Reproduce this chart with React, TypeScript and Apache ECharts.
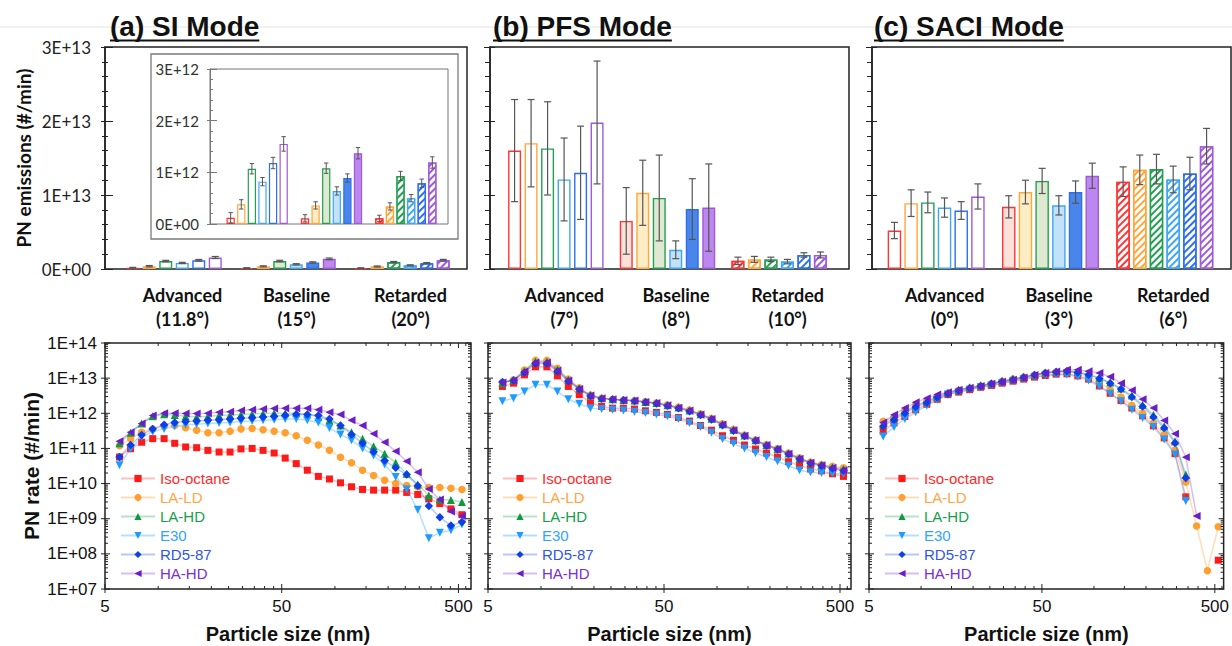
import React, { useEffect, useRef } from 'react';
import * as echarts from 'echarts';

// ---------- categories ----------
const fuels = ['Iso-octane', 'LA-LD', 'LA-HD', 'E30', 'RD5-87', 'HA-HD'];
const siTimings = ['Advanced\n(11.8°)', 'Baseline\n(15°)', 'Retarded\n(20°)'];
const pfsTimings = ['Advanced\n(7°)', 'Baseline\n(8°)', 'Retarded\n(10°)'];
const saciTimings = ['Advanced\n(0°)', 'Baseline\n(3°)', 'Retarded\n(6°)'];

// ---------- PN emissions bars (rows: fuels, cols: Advanced/Baseline/Retarded), #/min ----------
const siMeans = [
  [1.2e11, 1.1e11, 1.1e11],
  [3.8e11, 3.6e11, 3.4e11],
  [1.07e12, 1.08e12, 9.3e11],
  [8.2e11, 6.4e11, 5.0e11],
  [1.18e12, 8.9e11, 7.9e11],
  [1.55e12, 1.37e12, 1.19e12],
];
const siErrors = [
  [1.0e11, 7e10, 6e10],
  [9e10, 7e10, 7e10],
  [1.0e11, 1.0e11, 9e10],
  [8e10, 8e10, 7e10],
  [1.1e11, 8e10, 8e10],
  [1.4e11, 1.1e11, 1.1e11],
];
const pfsMeans = [
  [1.6e13, 6.5e12, 1.1e12],
  [1.7e13, 1.03e13, 1.3e12],
  [1.63e13, 9.6e12, 1.3e12],
  [1.21e13, 2.6e12, 1.0e12],
  [1.3e13, 8.1e12, 1.9e12],
  [1.98e13, 8.3e12, 1.9e12],
];
const pfsErrors = [
  [6.9e12, 4.5e12, 5e11],
  [5.9e12, 4.4e12, 4e11],
  [6.3e12, 5.8e12, 3e11],
  [5.6e12, 1.2e12, 3e11],
  [6.3e12, 4.1e12, 3e11],
  [8.3e12, 5.9e12, 4e11],
];
const saciMeans = [
  [5.2e12, 8.4e12, 1.18e13],
  [8.9e12, 1.04e13, 1.34e13],
  [9.0e12, 1.19e13, 1.35e13],
  [8.3e12, 8.6e12, 1.21e13],
  [7.9e12, 1.04e13, 1.29e13],
  [9.8e12, 1.26e13, 1.66e13],
];
const saciErrors = [
  [1.1e12, 1.5e12, 2.0e12],
  [1.8e12, 1.6e12, 2.0e12],
  [1.4e12, 1.7e12, 2.0e12],
  [1.3e12, 1.3e12, 1.8e12],
  [1.2e12, 1.5e12, 2.2e12],
  [1.7e12, 1.7e12, 2.4e12],
];

// ---------- particle size distributions ----------
const sizes = [6.04, 6.98, 8.06, 9.31, 10.8, 12.4, 14.3, 16.5, 19.1, 22.1, 25.5, 29.4, 34.0, 39.2, 45.3, 52.3,
  60.4, 69.8, 80.6, 93.1, 107.5, 124.1, 143.3, 165.5, 191.1, 220.7, 254.8, 294.3, 339.8, 392.4, 453.2, 523.3];

const siIsoOctane = [5.7e10, 9.8e10, 1.5e11, 1.9e11, 1.9e11, 1.4e11, 1.1e11, 1.05e11, 8.8e10, 7.9e10, 7.9e10, 9.7e10, 1.0e11, 8.8e10, 7.4e10, 5.3e10, 3.7e10, 2.4e10, 1.6e10, 1.35e10, 1.05e10, 8.1e9, 6.8e9, 6.5e9, 6.5e9, 6.5e9, 5.6e9, 4.9e9, 3.7e9, 2.7e9, 1.9e9, 1.3e9];
const siLALD = [1.2e11, 1.9e11, 2.9e11, 3.6e11, 4.3e11, 4.5e11, 3.9e11, 3.3e11, 2.8e11, 2.8e11, 3.1e11, 3.6e11, 3.7e11, 3.4e11, 3.1e11, 2.8e11, 2.3e11, 1.7e11, 1.25e11, 8.9e10, 5.6e10, 3.9e10, 2.4e10, 1.7e10, 1.24e10, 1.0e10, 8.8e9, 8.1e9, 7.7e9, 7.7e9, 7.4e9, 6.8e9];
const siLAHD = [1.4e11, 2.8e11, 5.1e11, 8.2e11, 9.4e11, 9.0e11, 8.2e11, 7.9e11, 8.2e11, 8.6e11, 9.0e11, 9.2e11, 9.6e11, 9.8e11, 1.0e12, 1.0e12, 1.0e12, 9.4e11, 7.9e11, 6.3e11, 4.5e11, 2.9e11, 1.9e11, 1.15e11, 7.1e10, 3.9e10, 1.9e10, 9.4e9, 4.6e9, 3.5e9, 3.4e9, 3.0e9];
const siE30 = [3.3e10, 9.7e10, 2.1e11, 3.0e11, 3.6e11, 4.3e11, 4.7e11, 4.9e11, 5.1e11, 5.3e11, 5.5e11, 5.8e11, 6.0e11, 6.3e11, 6.6e11, 6.9e11, 6.9e11, 6.3e11, 5.5e11, 3.8e11, 2.5e11, 1.7e11, 1.0e11, 6.3e10, 3.5e10, 1.55e10, 6.8e9, 1.8e9, 2.8e8, 4.0e8, 4.7e8, 6.8e8];
const siRD587 = [5.7e10, 1.25e11, 2.4e11, 3.6e11, 4.7e11, 5.5e11, 5.8e11, 6.0e11, 6.3e11, 6.6e11, 6.9e11, 7.2e11, 7.5e11, 7.9e11, 8.2e11, 8.8e11, 9.4e11, 9.2e11, 8.6e11, 6.9e11, 4.5e11, 2.5e11, 1.4e11, 8.0e10, 4.5e10, 2.8e10, 1.8e10, 8.7e9, 2.3e9, 1.1e9, 6.4e8, 8.0e8];
const siHAHD = [1.6e11, 2.9e11, 5.1e11, 8.6e11, 1.0e12, 1.0e12, 9.8e11, 9.8e11, 1.0e12, 1.07e12, 1.1e12, 1.2e12, 1.27e12, 1.33e12, 1.37e12, 1.4e12, 1.4e12, 1.4e12, 1.27e12, 1.07e12, 9.2e11, 6.3e11, 4.5e11, 2.6e11, 1.5e11, 8.3e10, 4.3e10, 2.1e10, 7.0e9, 3.5e9, 1.6e9, 1.2e9];

const pfsIsoOctane = [5.8e12, 7.2e12, 1.24e13, 2.1e13, 2.1e13, 1.16e13, 5.8e12, 3.4e12, 2.0e12, 1.57e12, 1.4e12, 1.4e12, 1.32e12, 1.18e12, 1.06e12, 9.3e11, 7.6e11, 6.0e11, 4.5e11, 3.3e11, 2.3e11, 1.7e11, 1.25e11, 9.6e10, 7.4e10, 5.7e10, 4.2e10, 3.3e10, 2.6e10, 2.3e10, 1.9e10, 1.6e10];
const pfsLALD = [7.5e12, 9.0e12, 1.7e13, 3.2e13, 3.2e13, 1.9e13, 9.5e12, 5.3e12, 3.3e12, 2.7e12, 2.5e12, 2.4e12, 2.3e12, 2.15e12, 2.0e12, 1.75e12, 1.5e12, 1.25e12, 9.7e11, 7.2e11, 5.0e11, 3.5e11, 2.4e11, 1.75e11, 1.3e11, 1.0e11, 7.4e10, 5.4e10, 4.1e10, 3.5e10, 3.1e10, 2.8e10];
const pfsLAHD = [7.3e12, 8.8e12, 1.6e13, 3.0e13, 3.0e13, 1.75e13, 9.0e12, 5.1e12, 3.3e12, 2.7e12, 2.5e12, 2.4e12, 2.3e12, 2.1e12, 1.95e12, 1.7e12, 1.45e12, 1.2e12, 9.4e11, 7.0e11, 4.9e11, 3.4e11, 2.35e11, 1.7e11, 1.25e11, 9.7e10, 7.2e10, 5.2e10, 4.0e10, 3.4e10, 2.9e10, 2.6e10];
const pfsE30 = [2.2e12, 2.7e12, 4.2e12, 6.5e12, 6.5e12, 4.2e12, 2.5e12, 1.86e12, 1.4e12, 1.32e12, 1.26e12, 1.2e12, 1.1e12, 1.02e12, 9.3e11, 8.2e11, 6.9e11, 5.3e11, 4.1e11, 2.8e11, 1.86e11, 1.37e11, 1.0e11, 7.4e10, 5.7e10, 4.3e10, 3.2e10, 2.4e10, 2.1e10, 2.0e10, 1.9e10, 1.9e10];
const pfsRD587 = [7.8e12, 8.5e12, 1.45e13, 2.6e13, 2.6e13, 1.55e13, 8.2e12, 4.8e12, 3.1e12, 2.6e12, 2.45e12, 2.35e12, 2.25e12, 2.05e12, 1.9e12, 1.65e12, 1.4e12, 1.15e12, 9.0e11, 6.7e11, 4.6e11, 3.2e11, 2.25e11, 1.65e11, 1.2e11, 9.3e10, 6.9e10, 5.0e10, 3.8e10, 3.2e10, 2.7e10, 2.3e10];
const pfsHAHD = [7.5e12, 8.6e12, 1.55e13, 2.8e13, 2.8e13, 1.65e13, 8.6e12, 4.9e12, 3.2e12, 2.7e12, 2.5e12, 2.4e12, 2.3e12, 2.1e12, 1.96e12, 1.7e12, 1.44e12, 1.2e12, 9.3e11, 6.9e11, 4.8e11, 3.3e11, 2.3e11, 1.7e11, 1.25e11, 9.6e10, 7.1e10, 5.1e10, 3.9e10, 3.3e10, 2.8e10, 2.4e10];

const saciIsoOctane = [3.1e11, 5.3e11, 8.1e11, 1.26e12, 1.8e12, 2.5e12, 3.4e12, 4.0e12, 4.7e12, 5.5e12, 6.2e12, 7.2e12, 8.2e12, 9.4e12, 1.07e13, 1.19e13, 1.3e13, 1.33e13, 1.16e13, 9.4e12, 6.0e12, 3.7e12, 2.3e12, 1.41e12, 8.5e11, 4.4e11, 2.0e11, 7.1e10, 4.2e9, null, null, 6.6e7];
const saciLALD = [5.9e11, 7.7e11, 1.12e12, 1.65e12, 2.2e12, 2.9e12, 3.7e12, 4.5e12, 5.2e12, 6.0e12, 6.9e12, 8.1e12, 9.4e12, 1.07e13, 1.22e13, 1.4e13, 1.5e13, 1.55e13, 1.4e13, 1.1e13, 7.5e12, 4.7e12, 2.9e12, 1.7e12, 1.0e12, 5.3e11, 2.5e11, 8.9e10, 1.1e10, 6.2e8, 3.3e7, 5.9e8];
const saciLAHD = [4.8e11, 7.3e11, 1.1e12, 1.65e12, 2.2e12, 3.0e12, 3.9e12, 4.7e12, 5.5e12, 6.3e12, 7.2e12, 8.4e12, 9.6e12, 1.09e13, 1.24e13, 1.42e13, 1.55e13, 1.6e13, 1.5e13, 1.3e13, 1.02e13, 7.5e12, 5.1e12, 3.2e12, 1.75e12, 9.1e11, 4.3e11, 1.6e11, 1.8e10, null, null, null];
const saciE30 = [2.2e11, 4.1e11, 6.9e11, 1.07e12, 1.65e12, 2.4e12, 3.4e12, 4.0e12, 4.7e12, 5.5e12, 6.2e12, 7.2e12, 8.2e12, 9.4e12, 1.07e13, 1.19e13, 1.27e13, 1.24e13, 1.1e13, 8.6e12, 5.8e12, 3.6e12, 2.2e12, 1.26e12, 7.4e11, 4.1e11, 1.8e11, 6.7e10, 3.2e9, null, null, null];
const saciRD587 = [4.3e11, 6.6e11, 1.0e12, 1.5e12, 2.0e12, 2.8e12, 3.6e12, 4.4e12, 5.1e12, 5.9e12, 6.9e12, 7.9e12, 9.0e12, 1.05e13, 1.22e13, 1.4e13, 1.5e13, 1.58e13, 1.45e13, 1.24e13, 9.8e12, 7.2e12, 4.9e12, 2.9e12, 1.57e12, 7.8e11, 3.8e11, 1.43e11, 1.45e10, null, null, null];
const saciHAHD = [5.5e11, 9.1e11, 1.41e12, 2.05e12, 2.7e12, 3.4e12, 4.0e12, 4.7e12, 5.3e12, 6.0e12, 6.9e12, 7.9e12, 9.0e12, 1.05e13, 1.22e13, 1.4e13, 1.55e13, 1.72e13, 1.72e13, 1.58e13, 1.4e13, 1.1e13, 7.2e12, 4.5e12, 2.5e12, 1.41e12, 6.2e11, 2.6e11, 5.6e10, 1.2e9, null, null];

// ---------- axis ticks (log axes) ----------
const sizeMajorTicks = [5, 50, 500];
const sizeMinorTicks = [10, 15, 20, 25, 30, 35, 40, 45, 100, 150, 200, 250, 300, 350, 400, 450, 550];
const rateDecades = [7, 8, 9, 10, 11, 12, 13, 14];
const rateMinorMultipliers = [2, 3, 4, 5, 6, 7, 8, 9];

// ---------- styles ----------
const barEdge = ['#ff3434', '#ffa63c', '#22a052', '#3ea6f4', '#2c6ff0', '#a05ad8'];
const barFill = ['#fbe1d9', '#fdedc4', '#dfe9d2', '#c3e1f9', '#4a86ea', '#bc88ef'];
const markerColors = ['#ff1a1a', '#ff9f30', '#0e9a3e', '#1f9bff', '#0b3fe8', '#6a1fc6'];
const lineColors = ['rgba(255,40,40,0.3)', 'rgba(255,160,50,0.35)', 'rgba(20,160,70,0.3)', 'rgba(40,160,255,0.35)', 'rgba(20,70,240,0.3)', 'rgba(120,40,210,0.3)'];
const legendTextColors = ['#ff2a2a', '#ffa540', '#16a04a', '#33a3ff', '#2f55e6', '#7b2ed2'];
const symbols = ['rect', 'circle', 'triangle', 'triangle', 'diamond', 'triangle'];
const symbolRotates = [0, 0, 0, 180, 0, 90];
const symbolSizes = [7, 7.5, 8, 8, 8.5, 8];

const TOP_FONT = 'Lato';
const BOT_FONT = 'Liberation Sans';

const sciLabel = (v: number) => {
  if (v === 0) return '0E+00';
  const e = Math.floor(Math.log10(v) + 1e-9);
  const m = Math.round(v / Math.pow(10, e));
  return `${m}E+${e}`;
};

const measure = (text: string, font: string) => {
  const ctx = document.createElement('canvas').getContext('2d');
  if (!ctx) return text.length * 15;
  ctx.font = font;
  return ctx.measureText(text).width;
};

function buildOption() {
  const grid: any[] = [];
  const xAxis: any[] = [];
  const yAxis: any[] = [];
  const series: any[] = [];
  const legend: any[] = [];
  const addGrid = (g: any) => { grid.push(g); return grid.length - 1; };
  const addX = (a: any) => { xAxis.push(a); return xAxis.length - 1; };
  const addY = (a: any) => { yAxis.push(a); return yAxis.length - 1; };

  // frame grid with a visible value axis (cross ticks via two overlaid axes)
  const addFrame = (o: any) => {
    const gi = addGrid({ left: o.left, top: o.top, width: o.width, height: o.height, show: true, borderColor: o.border, borderWidth: o.borderWidth, backgroundColor: 'transparent' });
    addX({ gridIndex: gi, type: 'value', show: false, min: 0, max: 1 });
    addY({
      gridIndex: gi, type: 'value', position: 'left', min: 0, max: o.max, interval: o.max / 3,
      axisLine: { show: true, lineStyle: { color: o.border, width: o.borderWidth } },
      axisTick: { show: o.outLen > 0, length: o.outLen, lineStyle: { color: o.border, width: 1 } },
      minorTick: { show: o.outMinor > 0, splitNumber: 5, length: o.outMinor, lineStyle: { color: o.border, width: 1 } },
      splitLine: { show: false }, minorSplitLine: { show: false },
      axisLabel: o.label ? { show: true, formatter: sciLabel, fontFamily: TOP_FONT, fontSize: o.labelSize, color: o.labelColor, margin: o.labelMargin } : { show: false },
      ...(o.name ? { name: o.name, nameLocation: 'middle', nameGap: o.nameGap, nameTextStyle: { fontFamily: TOP_FONT, fontWeight: 'bold', fontSize: 19, color: '#111' } } : {}),
    });
    addY({
      gridIndex: gi, type: 'value', position: 'left', min: 0, max: o.max, interval: o.max / 3,
      axisLine: { show: false },
      axisTick: { show: true, inside: true, length: o.inLen, lineStyle: { color: o.border, width: 1 } },
      minorTick: { show: o.inMinor > 0, splitNumber: 5, length: o.inMinor, lineStyle: { color: o.border, width: 1 } },
      splitLine: { show: false }, axisLabel: { show: false },
    });
    return gi;
  };

  const addBars = (o: any) => {
    const gi = addGrid({ left: o.left, top: o.top, width: o.width, height: o.height });
    const xi = addX({
      gridIndex: gi, type: 'category', data: o.categories,
      axisLine: { show: false }, axisTick: { show: false }, splitLine: { show: false },
      axisLabel: o.showLabels ? { show: true, fontFamily: TOP_FONT, fontWeight: 'bold', fontSize: 18, color: '#111', lineHeight: 24, margin: 14, padding: [0, 0, 0, 17], interval: 0 } : { show: false },
    });
    const yi = addY({ gridIndex: gi, type: 'value', show: false, min: 0, max: o.max });
    const bw = o.bw, gap = o.gap;
    fuels.forEach((fuel, j) => {
      series.push({
        type: 'bar', name: `${o.id} ${fuel}`, xAxisIndex: xi, yAxisIndex: yi,
        barWidth: bw, barGap: `${(gap / bw) * 100}%`, z: 2, silent: true,
        data: o.means[j].map((m: number, k: number) => {
          const base: any = { borderColor: barEdge[j], borderWidth: o.borderWidth };
          if (k === 0) base.color = '#ffffff';
          else if (k === 1) base.color = barFill[j];
          else {
            base.color = '#ffffff';
            base.decal = { symbol: 'rect', symbolSize: 1, dashArrayX: [1, 0], dashArrayY: [o.stripe, o.stripeGap], rotation: -Math.PI / 4, color: barEdge[j] };
          }
          return { value: m, itemStyle: base };
        }),
      });
      const off = (j - 2.5) * (bw + gap);
      series.push({
        type: 'custom', name: `${o.id} ${fuel} err`, xAxisIndex: xi, yAxisIndex: yi, z: 5, silent: true,
        encode: { x: 0, y: [1, 2] },
        data: o.means[j].map((m: number, k: number) => [k, Math.max(0, m - o.errors[j][k]), m + o.errors[j][k]]),
        renderItem: (params: any, api: any) => {
          const k = api.value(0);
          const lo = api.coord([k, api.value(1)]);
          const hi = api.coord([k, api.value(2)]);
          const x = lo[0] + off;
          const st = { stroke: '#555', lineWidth: o.errWidth };
          return {
            type: 'group', children: [
              { type: 'line', shape: { x1: x, y1: lo[1], x2: x, y2: hi[1] }, style: st },
              { type: 'line', shape: { x1: x - o.cap, y1: lo[1], x2: x + o.cap, y2: lo[1] }, style: st },
              { type: 'line', shape: { x1: x - o.cap, y1: hi[1], x2: x + o.cap, y2: hi[1] }, style: st },
            ],
          };
        },
      });
    });
  };

  // ---------- top row ----------
  const TOP = 47, H = 222;
  addFrame({ left: 105, top: TOP, width: 362, height: H, max: 3e13, border: '#222', borderWidth: 1.5, outLen: 4, outMinor: 3, inLen: 8, inMinor: 3, label: true, labelSize: 17, labelColor: '#222', labelMargin: 14, name: 'PN emissions (#/min)', nameGap: 72 });
  addBars({ id: 'SI', left: 117, top: TOP, width: 342, height: H, categories: siTimings, means: siMeans, errors: siErrors, max: 3e13, showLabels: true, bw: 13, gap: 3.5, borderWidth: 1.4, cap: 3.5, errWidth: 1.2, stripe: 1.8, stripeGap: 2.6 });
  // inset
  const insetBox = addGrid({ left: 151, top: 54, width: 307, height: 185, show: true, borderColor: '#7a7a7a', borderWidth: 1.3, backgroundColor: '#fff' });
  addX({ gridIndex: insetBox, type: 'value', show: false, min: 0, max: 1 });
  addY({ gridIndex: insetBox, type: 'value', show: false, min: 0, max: 1 });
  addFrame({ left: 210, top: 69, width: 238, height: 155, max: 3e12, border: '#777', borderWidth: 1, outLen: 3, outMinor: 0, inLen: 7, inMinor: 3, label: true, labelSize: 15, labelColor: '#333', labelMargin: 11 });
  addBars({ id: 'SIinset', left: 220, top: 69, width: 223, height: 155, categories: siTimings, means: siMeans, errors: siErrors, max: 3e12, showLabels: false, bw: 8.3, gap: 2.3, borderWidth: 1.2, cap: 2.2, errWidth: 1, stripe: 1.5, stripeGap: 2.2 });

  addFrame({ left: 490, top: TOP, width: 359, height: H, max: 3e13, border: '#222', borderWidth: 1.5, outLen: 6, outMinor: 5, inLen: 5, inMinor: 0, label: false });
  addBars({ id: 'PFS', left: 500, top: TOP, width: 335, height: H, categories: pfsTimings, means: pfsMeans, errors: pfsErrors, max: 3e13, showLabels: true, bw: 13, gap: 3.5, borderWidth: 1.4, cap: 3.5, errWidth: 1.2, stripe: 1.8, stripeGap: 2.6 });

  addFrame({ left: 872, top: TOP, width: 359, height: H, max: 3e13, border: '#222', borderWidth: 1.5, outLen: 6, outMinor: 5, inLen: 5, inMinor: 0, label: false });
  addBars({ id: 'SACI', left: 879, top: TOP, width: 343, height: H, categories: saciTimings, means: saciMeans, errors: saciErrors, max: 3e13, showLabels: true, bw: 13.5, gap: 3.2, borderWidth: 1.4, cap: 3.5, errWidth: 1.2, stripe: 1.8, stripeGap: 2.6 });

  // ---------- bottom row ----------
  const tickData: number[][] = [];
  sizeMajorTicks.forEach((s) => tickData.push([Math.log10(s / 5), 10, 0]));
  sizeMinorTicks.forEach((s) => tickData.push([Math.log10(s / 5), 10, 1]));
  rateDecades.forEach((d) => tickData.push([0, d, 2]));
  rateDecades.slice(0, -1).forEach((d) => rateMinorMultipliers.forEach((m) => tickData.push([0, d + Math.log10(m), 3])));

  const bottomPanel = (o: any) => {
    const gi = addGrid({ left: o.left, top: 343, width: o.width, height: 246, show: true, borderColor: '#222', borderWidth: 1.5 });
    const xi = addX({
      gridIndex: gi, type: 'value', min: 0, max: o.xMax, interval: 1,
      axisLine: { show: false }, axisTick: { show: false }, splitLine: { show: false },
      axisLabel: {
        formatter: (v: number) => (Math.abs(v - Math.round(v)) < 1e-6 ? String(Math.round(5 * Math.pow(10, v))) : ''),
        fontFamily: BOT_FONT, fontSize: 17, color: '#111', margin: 9,
      },
      name: 'Particle size (nm)', nameLocation: 'middle', nameGap: 35,
      nameTextStyle: { fontFamily: BOT_FONT, fontWeight: 'bold', fontSize: 20, color: '#111' },
    });
    const yi = addY({
      gridIndex: gi, type: 'value', min: 7, max: 14, interval: 1,
      axisLine: { show: false }, axisTick: { show: false }, splitLine: { show: false },
      axisLabel: o.showY ? { show: true, formatter: (v: number) => '1E+' + (v < 10 ? '0' + v : String(v)), fontFamily: BOT_FONT, fontSize: 17, color: '#111', margin: 8 } : { show: false },
      ...(o.showY ? { name: 'PN rate (#/min)', nameLocation: 'middle', nameGap: 63, nameTextStyle: { fontFamily: BOT_FONT, fontWeight: 'bold', fontSize: 21, color: '#111' } } : {}),
    });
    o.psd.forEach((vals: (number | null)[], j: number) => {
      series.push({
        type: 'line', name: fuels[j], xAxisIndex: xi, yAxisIndex: yi, z: 3 + j * 0.1,
        data: sizes.map((d, i) => [Math.log10(d / 5), vals[i] == null ? '-' : Math.log10(vals[i] as number)]),
        connectNulls: false, showSymbol: true,
        symbol: symbols[j], symbolRotate: symbolRotates[j], symbolSize: symbolSizes[j],
        itemStyle: { color: markerColors[j] },
        lineStyle: { color: lineColors[j], width: 1.5 },
        emphasis: { disabled: true }, silent: true,
      });
    });
    series.push({
      type: 'custom', name: 'ticks', xAxisIndex: xi, yAxisIndex: yi, z: 10, silent: true,
      encode: { x: 0, y: 1 },
      data: tickData,
      renderItem: (params: any, api: any) => {
        const cs = params.coordSys;
        const L = cs.x, T = cs.y, R = cs.x + cs.width, B = cs.y + cs.height;
        const kind = api.value(2);
        const st = { stroke: '#222', lineWidth: 1 };
        if (kind < 2) {
          const x = api.coord([api.value(0), 10])[0];
          if (x > R - 0.5) return null;
          const inL = kind === 0 ? 5 : 3, outL = kind === 0 ? 4 : 0;
          return { type: 'group', children: [
            { type: 'line', shape: { x1: x, y1: B + outL, x2: x, y2: B - inL }, style: st },
            { type: 'line', shape: { x1: x, y1: T, x2: x, y2: T + inL }, style: st },
          ] };
        }
        const y = api.coord([0, api.value(1)])[1];
        const inL = kind === 2 ? 5 : 3, outL = kind === 2 ? 4 : 0;
        return { type: 'group', children: [
          { type: 'line', shape: { x1: L - outL, y1: y, x2: L + inL, y2: y }, style: st },
          { type: 'line', shape: { x1: R, y1: y, x2: R - inL, y2: y }, style: st },
        ] };
      },
    });
    legend.push({
      show: true, orient: 'vertical', left: o.legendLeft, top: 469, itemWidth: 34, itemHeight: 9, itemGap: 0,
      selectedMode: false, padding: 0,
      textStyle: { fontFamily: BOT_FONT, fontSize: 15, lineHeight: 19 },
      data: fuels.map((f, j) => ({ name: f, textStyle: { color: legendTextColors[j] } })),
    });
  };

  bottomPanel({ left: 105, width: 366, xMax: 2.071, showY: true, legendLeft: 120, psd: [siIsoOctane, siLALD, siLAHD, siE30, siRD587, siHAHD] });
  bottomPanel({ left: 488, width: 363, xMax: 2.0625, showY: false, legendLeft: 502, psd: [pfsIsoOctane, pfsLALD, pfsLAHD, pfsE30, pfsRD587, pfsHAHD] });
  bottomPanel({ left: 869, width: 362, xMax: 2.051, showY: false, legendLeft: 884, psd: [saciIsoOctane, saciLALD, saciLAHD, saciE30, saciRD587, saciHAHD] });

  // ---------- titles ----------
  const titleFont = `bold 28px "${BOT_FONT}"`;
  const titles = [
    { text: '(a) SI Mode', x: 110 },
    { text: '(b) PFS Mode', x: 493 },
    { text: '(c) SACI Mode', x: 874 },
  ];
  const graphic: any[] = [
    { type: 'line', silent: true, z: -10, shape: { x1: 0, y1: 27, x2: 1232, y2: 27 }, style: { stroke: '#e3e3e3', lineWidth: 1 } },
  ];
  titles.forEach((t) => {
    graphic.push({ type: 'text', x: t.x, y: 26, silent: true, style: { text: t.text, fontSize: 28, fontWeight: 'bold', fontFamily: BOT_FONT, fill: '#111', align: 'left', verticalAlign: 'middle' } });
    const w = measure(t.text, titleFont);
    graphic.push({ type: 'line', silent: true, shape: { x1: t.x, y1: 40.5, x2: t.x + w, y2: 40.5 }, style: { stroke: '#111', lineWidth: 2.2 } });
  });

  return { animation: false, backgroundColor: '#ffffff', grid, xAxis, yAxis, series, legend, graphic };
}

export default function App() {
  const ref = useRef<HTMLDivElement>(null);
  useEffect(() => {
    if (!ref.current) return;
    const chart = echarts.init(ref.current, undefined, { renderer: 'svg' });
    chart.setOption(buildOption() as any);
    return () => chart.dispose();
  }, []);
  return <div ref={ref} style={{ position: 'absolute', left: 0, top: 0, width: 1232, height: 646, background: '#ffffff' }} />;
}
